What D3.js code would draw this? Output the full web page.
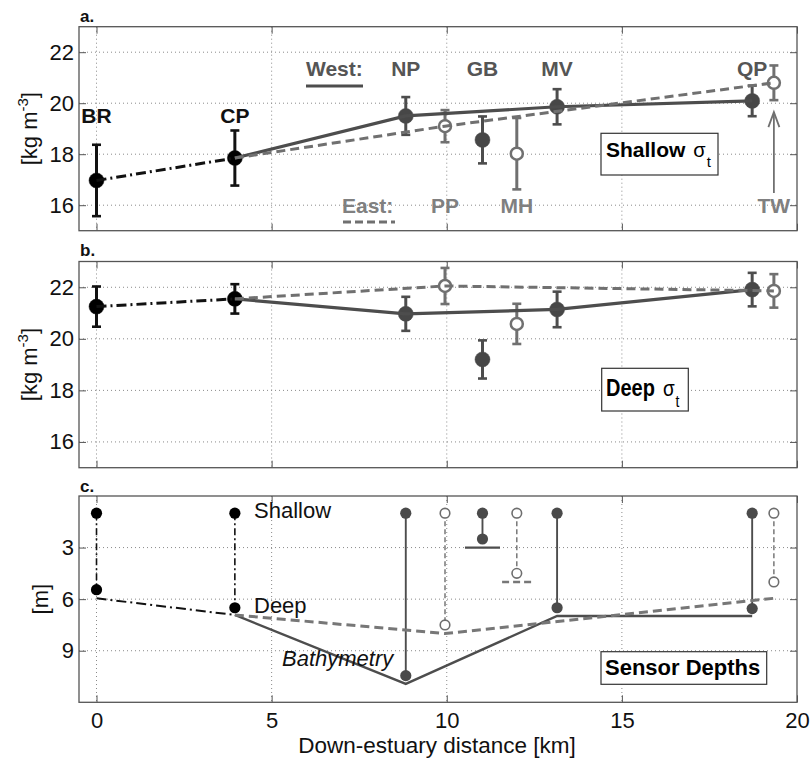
<!DOCTYPE html>
<html>
<head>
<meta charset="utf-8">
<script src="https://cdn.jsdelivr.net/npm/d3@7"></script>
<style>
  html, body { margin: 0; padding: 0; background: #fff; }
  svg { display: block; font-family: "Liberation Sans", Arial, Helvetica, sans-serif; }
</style>
</head>
<body>
<svg id="chart" width="812" height="759"></svg>
<script>
// ---- Stations along the estuary (distance down-estuary from BR, km) ----
const stations   = ["BR", "CP", "NP", "PP", "GB", "MH", "MV", "QP", "TW"];
const distanceKm = [0, 3.95, 8.83, 9.95, 11.02, 12.0, 13.15, 18.72, 19.34];
const branch     = ["upper", "upper", "west", "east", "west", "east", "west", "west", "east"];

// ---- Shallow sigma-t: mean and spread [kg m-3] ----
const shallowSigma  = [16.97, 17.85, 19.5, 19.1, 18.56, 18.02, 19.86, 20.09, 20.8];
const shallowSpread = [1.4, 1.08, 0.74, 0.63, 0.92, 1.4, 0.69, 0.6, 0.68];

// ---- Deep sigma-t: mean and spread [kg m-3] ----
const deepSigma  = [21.25, 21.55, 20.97, 22.05, 19.2, 20.58, 21.14, 21.91, 21.86];
const deepSpread = [0.78, 0.57, 0.66, 0.7, 0.74, 0.78, 0.69, 0.65, 0.65];

// ---- Sensor depths and bottom depth [m] ----
const shallowSensorDepth = [1, 1, 1, 1, 1, 1, 1, 1, 1];
const deepSensorDepth    = [5.45, 6.5, 10.45, 7.5, 2.5, 4.5, 6.5, 6.55, 5.0];
const bottomDepth        = [5.95, 6.92, 10.93, 8.0, 3.0, 5.0, 6.98, 6.98, 5.95];

// ---- Connected transects and isolated side basins ----
const upperTransect = ["BR", "CP"];
const westTransect  = ["CP", "NP", "MV", "QP"];
const eastTransect  = ["CP", "PP", "TW"];
const sideBasins    = ["GB", "MH"];
const sideBasinHalfWidthKm = [0.5, 0.42];

// ---- Axis ticks ----
const sigmaTicks    = [16, 18, 20, 22];
const depthTicks    = [3, 6, 9];
const distanceTicks = [0, 5, 10, 15, 20];

// ---------------------------------------------------------------------
const svg = d3.select("#chart");
const idx = s => stations.indexOf(s);

const colour = { upper: "#111111", west: "#4d4d4d", east: "#707070" };
const labelColour = { upper: "#111111", west: "#555555", east: "#808080" };

const x = d3.scaleLinear().domain([-0.5, 20]).range([79, 797]);

const panels = [
  { key: "a", top: 26.7,  bottom: 230.7, domain: [15, 23], ticks: sigmaTicks },
  { key: "b", top: 261.5, bottom: 467.7, domain: [15, 23], ticks: sigmaTicks },
  { key: "c", top: 496,   bottom: 702.3, domain: [12, 0],  ticks: depthTicks }
];
panels.forEach(p => {
  p.y = d3.scaleLinear().domain(p.domain).range([p.bottom, p.top]);
});

function dashFor(b, kind) {
  if (b === "upper") return kind === "thin" ? "7,3,2,3" : "10,4,2,4";
  if (b === "east") return kind === "thin" ? "5,3" : "9,5";
  return null;
}

// ---- frames, grid and axes ----
panels.forEach((p, i) => {
  const g = svg.append("g");
  const y = p.y;

  // dotted grid
  g.selectAll("line.vg").data(distanceTicks.filter(d => d < 20)).join("line")
    .attr("x1", d => x(d)).attr("x2", d => x(d))
    .attr("y1", p.top).attr("y2", p.bottom)
    .attr("stroke", "#8a8a8a").attr("stroke-width", 1).attr("stroke-dasharray", "1,3");
  g.selectAll("line.hg").data(p.ticks).join("line")
    .attr("x1", x.range()[0]).attr("x2", x.range()[1])
    .attr("y1", d => y(d)).attr("y2", d => y(d))
    .attr("stroke", "#8a8a8a").attr("stroke-width", 1).attr("stroke-dasharray", "1,3");

  // inward ticks on all four sides, labels on left (and bottom for the last panel)
  const left = g.append("g").attr("transform", `translate(${x.range()[0]},0)`)
    .call(d3.axisLeft(y).tickValues(p.ticks).tickSize(-7).tickPadding(5).tickFormat(d3.format("d")));
  const right = g.append("g").attr("transform", `translate(${x.range()[1]},0)`)
    .call(d3.axisRight(y).tickValues(p.ticks).tickSize(-7).tickFormat(""));
  const bottom = g.append("g").attr("transform", `translate(0,${p.bottom})`)
    .call(d3.axisBottom(x).tickValues(distanceTicks).tickSize(-7).tickPadding(10)
      .tickFormat(i === 2 ? d3.format("d") : ""));
  const top = g.append("g").attr("transform", `translate(0,${p.top})`)
    .call(d3.axisTop(x).tickValues(distanceTicks).tickSize(-7).tickFormat(""));
  [left, right, bottom, top].forEach(a => {
    a.select(".domain").remove();
    a.selectAll(".tick line").attr("stroke", "#555").attr("stroke-width", 1);
    a.selectAll("text").attr("font-size", 22).attr("fill", "#111")
      .attr("font-family", "'Liberation Sans', Arial, sans-serif");
  });

  // frame
  g.append("rect")
    .attr("x", x.range()[0]).attr("y", p.top)
    .attr("width", x.range()[1] - x.range()[0]).attr("height", p.bottom - p.top)
    .attr("fill", "none").attr("stroke", "#555").attr("stroke-width", 1.3);

  // panel letter
  svg.append("text").attr("x", 80).attr("y", [21.5, 256, 492][i])
    .attr("font-size", 17).attr("font-weight", "bold").attr("fill", "#111")
    .text(p.key + ".");
});

// ---- y axis titles ----
function sigmaTitle(p) {
  const cy = (p.top + p.bottom) / 2;
  const t = svg.append("text")
    .attr("transform", `translate(37,${cy}) rotate(-90)`)
    .attr("text-anchor", "middle").attr("font-size", 22).attr("fill", "#111");
  t.append("tspan").text("[kg m");
  t.append("tspan").attr("font-size", 15).attr("dy", -9).text("-3");
  t.append("tspan").attr("dy", 9).text("]");
}
sigmaTitle(panels[0]);
sigmaTitle(panels[1]);
svg.append("text")
  .attr("transform", `translate(48,${(panels[2].top + panels[2].bottom) / 2}) rotate(-90)`)
  .attr("text-anchor", "middle").attr("font-size", 22).attr("fill", "#111")
  .text("[m]");

// x axis title
svg.append("text").attr("x", 437).attr("y", 753)
  .attr("text-anchor", "middle").attr("font-size", 22.5).attr("fill", "#111")
  .text("Down-estuary distance [km]");

// ---- sigma-t panels ----
function drawSigma(p, values, spread) {
  const g = svg.append("g");
  const y = p.y;
  const pts = stations.map((s, i) => ({ s, i, b: branch[i], x: x(distanceKm[i]), v: values[i], e: spread[i] }));

  // error bars
  pts.forEach(d => {
    const c = colour[d.b];
    g.append("line").attr("x1", d.x).attr("x2", d.x)
      .attr("y1", y(d.v - d.e)).attr("y2", y(d.v + d.e))
      .attr("stroke", c).attr("stroke-width", 3);
    [d.v - d.e, d.v + d.e].forEach(v => {
      g.append("line").attr("x1", d.x - 4.5).attr("x2", d.x + 4.5)
        .attr("y1", y(v)).attr("y2", y(v))
        .attr("stroke", c).attr("stroke-width", 2.6);
    });
  });

  // markers
  pts.forEach(d => {
    const open = d.b === "east";
    g.append("circle").attr("cx", d.x).attr("cy", y(d.v))
      .attr("r", open ? 6 : 7.5)
      .attr("fill", open ? "#fff" : (d.b === "upper" ? "#000" : "#474747"))
      .attr("stroke", colour[d.b]).attr("stroke-width", open ? 2.5 : 0.5);
  });

  // connecting transect lines
  const line = d3.line().x(s => x(distanceKm[idx(s)])).y(s => y(values[idx(s)]));
  [[upperTransect, "upper"], [westTransect, "west"], [eastTransect, "east"]].forEach(([tr, b]) => {
    g.append("path").attr("d", line(tr)).attr("fill", "none")
      .attr("stroke", colour[b]).attr("stroke-width", b === "west" ? 3.2 : 3)
      .attr("stroke-dasharray", dashFor(b, "thick"));
  });
}
drawSigma(panels[0], shallowSigma, shallowSpread);
drawSigma(panels[1], deepSigma, deepSpread);

// ---- station labels (panel a) ----
const pa = panels[0];
stations.forEach((s, i) => {
  const b = branch[i];
  let ly;
  if (b === "upper") ly = 123;
  else if (b === "west") ly = 76;
  else ly = 213;
  svg.append("text").attr("x", x(distanceKm[i])).attr("y", ly)
    .attr("text-anchor", "middle").attr("font-size", 21).attr("font-weight", "bold")
    .attr("fill", labelColour[b]).text(s);
});
// branch keys
svg.append("text").attr("x", 306).attr("y", 76).attr("font-size", 21).attr("font-weight", "bold")
  .attr("fill", labelColour.west).text("West:");
svg.append("line").attr("x1", 306).attr("x2", 363).attr("y1", 86).attr("y2", 86)
  .attr("stroke", colour.west).attr("stroke-width", 3);
svg.append("text").attr("x", 342).attr("y", 213).attr("font-size", 21).attr("font-weight", "bold")
  .attr("fill", labelColour.east).text("East:");
svg.append("line").attr("x1", 343).attr("x2", 395).attr("y1", 222).attr("y2", 222)
  .attr("stroke", colour.east).attr("stroke-width", 3).attr("stroke-dasharray", "8,4");

// arrow from the TW label to its point
{
  const tx = x(distanceKm[idx("TW")]);
  const ty = pa.y(shallowSigma[idx("TW")] - shallowSpread[idx("TW")]) + 12;
  svg.append("line").attr("x1", tx).attr("x2", tx).attr("y1", 193).attr("y2", ty)
    .attr("stroke", colour.east).attr("stroke-width", 1.8);
  svg.append("polyline")
    .attr("points", `${tx - 5.5},${ty + 15} ${tx},${ty} ${tx + 5.5},${ty + 15}`)
    .attr("fill", "none").attr("stroke", colour.east).attr("stroke-width", 1.8);
}

// ---- boxed titles ----
function boxed(rx, ry, rw, rh) {
  svg.append("rect").attr("x", rx).attr("y", ry).attr("width", rw).attr("height", rh)
    .attr("fill", "#fff").attr("stroke", "#333").attr("stroke-width", 1.2);
}
boxed(601, 133.3, 117, 41.7);
{
  const t = svg.append("text").attr("x", 606).attr("y", 157).attr("fill", "#000");
  t.append("tspan").attr("font-size", 21).attr("font-weight", "bold").text("Shallow");
  t.append("tspan").attr("font-size", 20).attr("dx", 8).text("σ");
  t.append("tspan").attr("font-size", 15).attr("dx", 1).attr("dy", 10).text("t");
}
boxed(601.7, 368.3, 86.6, 42.7);
{
  const g = svg.append("g").attr("transform", "translate(606,395.7) scale(1,1.2)");
  const t = g.append("text").attr("x", 0).attr("y", 0).attr("fill", "#000");
  t.append("tspan").attr("font-size", 20).attr("font-weight", "bold").text("Deep");
  t.append("tspan").attr("font-size", 19).attr("dx", 8).text("σ");
  t.append("tspan").attr("font-size", 14).attr("dx", 1).attr("dy", 9).text("t");
}
boxed(601, 651.7, 165.7, 32.6);
svg.append("text").attr("x", 605).attr("y", 675).attr("font-size", 22).attr("font-weight", "bold")
  .attr("fill", "#000").text("Sensor Depths");

// ---- sensor depth panel ----
{
  const p = panels[2];
  const y = p.y;
  const g = svg.append("g");

  // sensor pairs
  stations.forEach((s, i) => {
    const b = branch[i];
    g.append("line")
      .attr("x1", x(distanceKm[i])).attr("x2", x(distanceKm[i]))
      .attr("y1", y(shallowSensorDepth[i])).attr("y2", y(deepSensorDepth[i]))
      .attr("stroke", b === "east" ? "#6e6e6e" : colour[b])
      .attr("stroke-width", b === "upper" ? 1.6 : (b === "west" ? 1.9 : 1.4))
      .attr("stroke-dasharray", dashFor(b, "thin"));
  });

  // bathymetry along the transects
  const line = d3.line().x(s => x(distanceKm[idx(s)])).y(s => y(bottomDepth[idx(s)]));
  [[upperTransect, "upper", 2], [westTransect, "west", 2.4], [eastTransect, "east", 3]].forEach(([tr, b, w]) => {
    g.append("path").attr("d", line(tr)).attr("fill", "none")
      .attr("stroke", b === "east" ? "#777" : colour[b]).attr("stroke-width", w)
      .attr("stroke-dasharray", dashFor(b, "thick"));
  });
  // isolated side-basin bottoms
  sideBasins.forEach((s, k) => {
    const i = idx(s);
    const b = branch[i];
    g.append("line")
      .attr("x1", x(distanceKm[i] - sideBasinHalfWidthKm[k]))
      .attr("x2", x(distanceKm[i] + sideBasinHalfWidthKm[k]))
      .attr("y1", y(bottomDepth[i])).attr("y2", y(bottomDepth[i]))
      .attr("stroke", b === "east" ? "#777" : colour[b]).attr("stroke-width", 2.4)
      .attr("stroke-dasharray", b === "east" ? "7,4" : null);
  });

  // sensor markers
  stations.forEach((s, i) => {
    const b = branch[i];
    [shallowSensorDepth[i], deepSensorDepth[i]].forEach(dep => {
      const open = b === "east";
      g.append("circle").attr("cx", x(distanceKm[i])).attr("cy", y(dep))
        .attr("r", open ? 4.8 : 5.6)
        .attr("fill", open ? "#fff" : (b === "upper" ? "#000" : "#4a4a4a"))
        .attr("stroke", open ? "#6e6e6e" : "none").attr("stroke-width", 1.6);
    });
  });

  // annotations
  svg.append("text").attr("x", 254).attr("y", 517.7).attr("font-size", 22).attr("fill", "#111").text("Shallow");
  svg.append("text").attr("x", 254).attr("y", 613).attr("font-size", 22).attr("fill", "#111").text("Deep");
  svg.append("text").attr("x", 282).attr("y", 665.7).attr("font-size", 22).attr("font-style", "italic")
    .attr("fill", "#111").text("Bathymetry");
}
</script>
</body>
</html>
